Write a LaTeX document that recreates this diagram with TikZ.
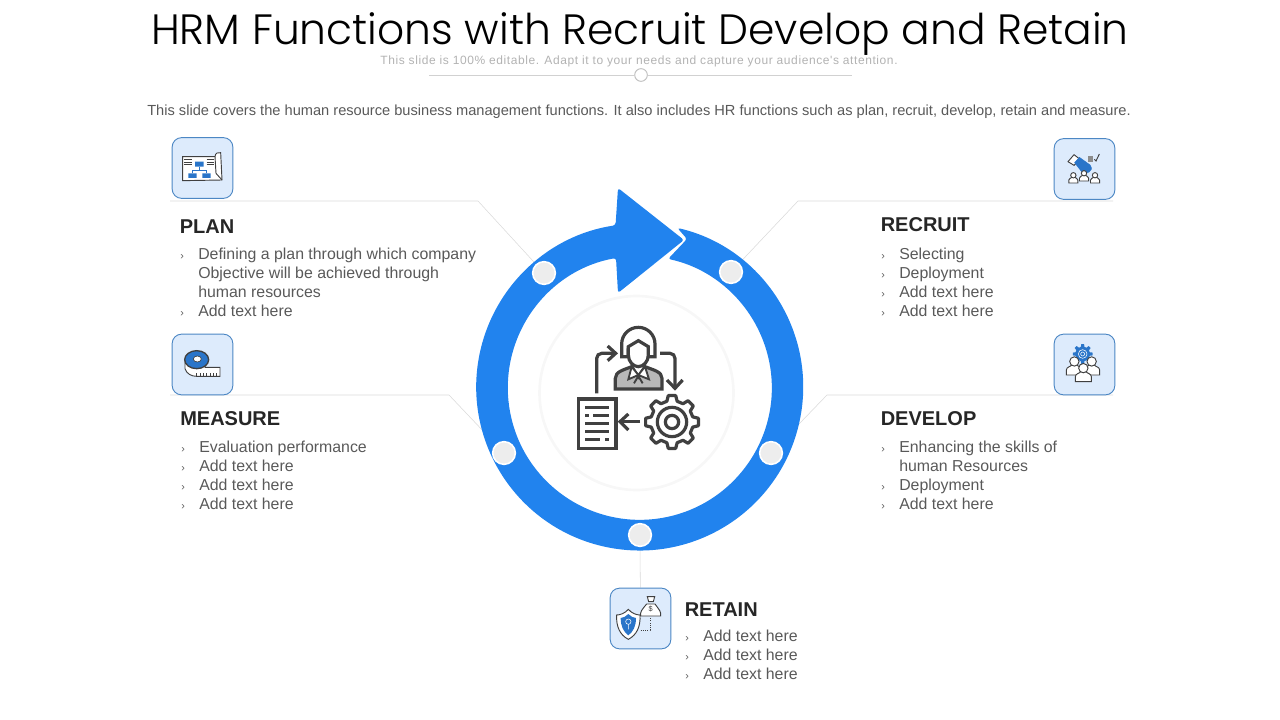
\documentclass[tikz,border=0pt]{standalone}
\usepackage{fontspec}
\setmainfont{Liberation Sans}
\newfontfamily\titlefont[UprightFont=* Light]{Poppins}
\newfontfamily\subfont[LetterSpace=4.9]{Liberation Sans}
\usetikzlibrary{backgrounds}
\definecolor{ringblue}{HTML}{2183EE}
\definecolor{boxblue}{HTML}{DDEBFC}
\definecolor{boxline}{HTML}{4C87C4}
\definecolor{icondark}{HTML}{404040}
\definecolor{iconblue}{HTML}{2A75C9}
\tikzset{
  iconbox/.style={draw=boxline,fill=boxblue,rounded corners=7pt,line width=0.7pt,minimum size=45.5pt,inner sep=0pt},
  dotmark/.style={circle,fill=black!7,draw=white,line width=1.2pt,minimum size=17pt,inner sep=0pt},
  leader/.style={draw=black!15,line width=0.4pt},
  headtext/.style={anchor=west,inner sep=0pt,font=\bfseries\fontsize{15}{18}\selectfont,text=black!85},
  listtext/.style={anchor=north west,inner sep=0pt,align=left,font=\fontsize{11.9}{14.25}\selectfont,text=black!65},
  icon/.style={draw=icondark,line width=2.4pt},
  tiny/.style={draw=icondark,line width=0.7pt}
}
\newcommand{\bul}{\makebox[13.5pt][l]{\fontsize{8}{8}\selectfont ›}}
\newcommand{\cont}{\makebox[13.5pt][l]{}}
\newcommand{\gearpath}[2]{(-14:#1) \foreach \a in {0,45,...,315}{ -- (\a-14:#1) -- (\a-8:#2) -- (\a+8:#2) -- (\a+14:#1)} -- cycle}
% small figure: x, y, size
\newcommand{\smallman}[3]{
  \begin{scope}[shift={(#1,#2)},scale=#3]
  \draw[tiny,fill=white] (-17,20) -- (-17,9) .. controls (-17,3) and (-8,2) .. (-6,-1) -- (6,-1) .. controls (8,2) and (17,3) .. (17,9) -- (17,20) -- cycle;
  \draw[tiny,fill=white] (0,-9) circle (10);
  \end{scope}
}
\begin{document}
\begin{tikzpicture}[x=0.75pt,y=0.75pt,yscale=-1]
\useasboundingbox (0,0) rectangle (1280,720);
% header
\node[inner sep=0pt,text=black,anchor=base,text depth=0pt] (title) at (640,45) {\titlefont\fontsize{31.8}{40}\selectfont HRM Functions with Recruit Develop and Retain};
\node[inner sep=0pt,text=black!30] (subtitle) at (639,61.5) {\subfont\fontsize{9}{11}\selectfont This slide is 100\% editable. Adapt it to your needs and capture your audience's attention.};
\node[circle,draw=black!25,fill=white,line width=0.7pt,minimum size=9.5pt,inner sep=0pt] (slider) at (641,75) {};
\coordinate (sliderl) at (429,75);
\coordinate (sliderr) at (852,75);
\draw[draw=black!18,line width=0.7pt] (sliderl) -- (slider) -- (sliderr);
\node[inner sep=0pt,text=black!65] (desc) at (639,111.5) {\fontsize{10.97}{13}\selectfont This slide covers the human resource business management functions. It also includes HR functions such as plan, recruit, develop, retain and measure.};

% ring with arrow head
\fill[ringblue,rounded corners=2pt] (-76.7+0:163.5) ++(639.7,387) arc[start angle=-76.7,end angle=261.5,radius=163.5]
  -- (618,188) -- (684,240) -- (618,293) -- (616,258)
  arc[start angle=259.6,end angle=-77.6,radius=132] -- (687,239) -- cycle;
\draw[black!3,line width=2pt] (636.5,393) circle (97);

% marks on the ring
\node[dotmark] (plandot) at (544,273) {};
\node[dotmark] (recruitdot) at (731,272) {};
\node[dotmark] (measuredot) at (504,453) {};
\node[dotmark] (developdot) at (771,453) {};
\node[dotmark] (retaindot) at (640,535) {};

% icon boxes
\node[iconbox] (planbox) at (202.5,168) {};
\node[iconbox] (recruitbox) at (1084.5,169) {};
\node[iconbox] (measurebox) at (202.5,364.5) {};
\node[iconbox] (developbox) at (1084.5,364.5) {};
\node[iconbox] (retainbox) at (640.5,618.5) {};

% leaders
\coordinate (planend) at (170,201);
\coordinate (plankink) at (478,201);
\coordinate (recruitend) at (1113,201);
\coordinate (recruitkink) at (798,201);
\coordinate (measureend) at (170,395);
\coordinate (measurekink) at (449,395);
\coordinate (developend) at (1113,395);
\coordinate (developkink) at (827,395);
\begin{scope}[on background layer]
\draw[leader] (planend) -- (plankink) -- (plandot);
\draw[leader] (recruitend) -- (recruitkink) -- (recruitdot);
\draw[leader] (measureend) -- (measurekink) -- (measuredot);
\draw[leader] (developend) -- (developkink) -- (developdot);
\draw[leader] (retaindot) -- (retainbox);
\end{scope}

% texts
\node[headtext] (planhead) at (179.5,227) {PLAN};
\node[listtext] (planlist) at (180,248) {\bul Defining a plan through which company\\\cont Objective will be achieved through\\\cont human resources\\\bul Add text here};
\node[headtext] (recruithead) at (880.5,225) {RECRUIT};
\node[listtext] (recruitlist) at (881,248) {\bul Selecting\\\bul Deployment\\\bul Add text here\\\bul Add text here};
\node[headtext] (measurehead) at (180,419) {MEASURE};
\node[listtext] (measurelist) at (181,441) {\bul Evaluation performance\\\bul Add text here\\\bul Add text here\\\bul Add text here};
\node[headtext] (develophead) at (880.5,419) {DEVELOP};
\node[listtext] (developlist) at (881,441) {\bul Enhancing the skills of\\\cont human Resources\\\bul Deployment\\\bul Add text here};
\node[headtext] (retainhead) at (684.5,610) {RETAIN};
\node[listtext] (retainlist) at (685,630) {\bul Add text here\\\bul Add text here\\\bul Add text here};

% centre icon
\begin{scope}[shift={(460,170)},scale=1/3]
\draw[icon,fill=black!28] (466,657) -- (466,625) .. controls (466,605) and (490,600) .. (515,590) -- (535,620) -- (555,590) .. controls (580,600) and (606,605) .. (606,625) -- (606,657) -- cycle;
\draw[icon,line width=1.4pt,fill=white] (515,590) -- (505,628) -- (535,615) -- cycle;
\draw[icon,line width=1.4pt,fill=white] (555,590) -- (567,628) -- (535,615) -- cycle;
\draw[icon,line width=1.4pt] (522,640) -- (535,618) -- (548,640);
\draw[icon,fill=white] (485,560) -- (485,522) arc[start angle=180,end angle=360,radius=50] -- (585,560) -- (565,560) -- (565,540) -- (505,540) -- (505,560) -- cycle;
\draw[icon,fill=white] (505,530) -- (535,512) -- (565,530) -- (565,555) .. controls (565,575) and (550,590) .. (535,590) .. controls (520,590) and (505,575) .. (505,555) -- cycle;
\draw[icon] (410,670) -- (410,565) arc[start angle=180,end angle=270,radius=15] -- (462,550);
\draw[icon] (443,528) -- (467,550) -- (443,572);
\draw[icon] (600,550) -- (630,550) arc[start angle=270,end angle=360,radius=15] -- (645,650);
\draw[icon] (621,630) -- (645,655) -- (668,630);
\draw[icon] (540,755) -- (482,755);
\draw[icon] (505,732) -- (480,755) -- (505,780);
\draw[icon,fill=white] (355,687) rectangle (468,835);
\foreach \yy in {712,760,785}{ \draw[icon] (375,\yy) -- (447,\yy); }
\draw[icon] (375,737) -- (387,737) (400,737) -- (447,737);
\draw[icon] (375,808) -- (420,808) (435,808) -- (447,808);
\begin{scope}[shift={(636,756)}]
\draw[icon,line join=round] \gearpath{64}{80};
\draw[icon] (0,0) circle (44);
\draw[icon] (0,0) circle (20);
\end{scope}
\end{scope}

% plan icon
\begin{scope}[shift={(160,130)},scale=1/3]
\draw[tiny,fill=white] (68,80) -- (165,80) .. controls (165,70) and (175,65) .. (182,68) -- (186,150) -- (68,152) -- cycle;
\draw[tiny] (165,80) -- (168,130) -- (186,150);
\fill[iconblue] (105,95) rectangle (131,110) (85,130) rectangle (110,144) (127,130) rectangle (152,144);
\draw[iconblue,line width=0.5pt] (118,110) -- (118,122) (97,130) -- (97,122) -- (140,122) -- (140,130);
\foreach \yy in {88,96,104}{ \draw[tiny,line width=0.5pt] (72,\yy) -- (95,\yy) (140,\yy) -- (162,\yy); }
\end{scope}

% recruit icon
\begin{scope}[shift={(1040,130)},scale=1/3]
\draw[tiny,fill=white] (84,95) -- (102,74) -- (120,88) -- (102,106) -- cycle;
\draw[iconblue,fill=iconblue,line join=round] (104,98) -- (118,82) -- (150,105) .. controls (165,125) and (135,135) .. (125,125) -- cycle;
\fill[black!45] (143,78) rectangle (160,95);
\draw[tiny] (163,88) -- (168,93) -- (178,72);
\smallman{100}{143}{0.8}
\smallman{165}{143}{0.8}
\smallman{132}{137}{0.8}
\end{scope}

% measure icon
\begin{scope}[shift={(160,328)},scale=1/3]
\draw[tiny,fill=white] (75,95) -- (75,122) .. controls (80,138) and (95,145) .. (110,145) -- (180,145) -- (180,118) -- (135,118) -- (135,95) -- cycle;
\foreach \xx in {110,120,...,170}{ \draw[tiny,line width=0.4pt] (\xx,145) -- (\xx,134); }
\draw[icondark,fill=iconblue,line width=1pt] (110,95) ellipse (36 and 27);
\draw[icondark,fill=white,line width=0.5pt] (112,93) ellipse (12 and 9);
\end{scope}

% develop icon
\begin{scope}[shift={(1040,328)},scale=1/3]
\begin{scope}[shift={(128,78)}]
\fill[iconblue] \gearpath{22}{30};
\draw[white,line width=0.4pt] (0,0) circle (13);
\draw[white,line width=0.4pt] (0,0) circle (6);
\end{scope}
\smallman{103}{113}{1.4}
\smallman{155}{113}{1.4}
\smallman{130}{133}{1.4}
\end{scope}

% retain icon
\begin{scope}[shift={(600,580)},scale=1/3]
\draw[tiny,fill=white] (85,88) .. controls (95,100) and (110,105) .. (120,105) .. controls (122,140) and (110,165) .. (85,178) .. controls (60,165) and (48,140) .. (50,105) .. controls (60,105) and (75,100) .. (85,88) -- cycle;
\fill[iconblue] (85,102) .. controls (92,110) and (100,113) .. (108,114) .. controls (108,138) and (100,155) .. (85,166) .. controls (70,155) and (62,138) .. (62,114) .. controls (70,113) and (78,110) .. (85,102) -- cycle;
\draw[white,line width=0.4pt] (85,125) circle (8) (85,133) -- (85,148);
\draw[tiny,fill=white] (140,72) .. controls (125,90) and (120,95) .. (122,108) -- (182,108) .. controls (184,95) and (178,90) .. (165,72) -- cycle;
\draw[tiny,fill=white] (142,50) -- (164,50) -- (160,65) -- (146,65) -- cycle;
\node[inner sep=0pt,text=icondark] (bagsign) at (152,88) {\fontsize{5.5}{6}\selectfont\$};
\coordinate (shieldend) at (122,150);
\coordinate (dotcorner) at (150,150);
\coordinate (bagend) at (150,112);
\draw[tiny,densely dotted] (shieldend) -- (dotcorner) -- (bagend);
\end{scope}
\end{tikzpicture}
\end{document}
